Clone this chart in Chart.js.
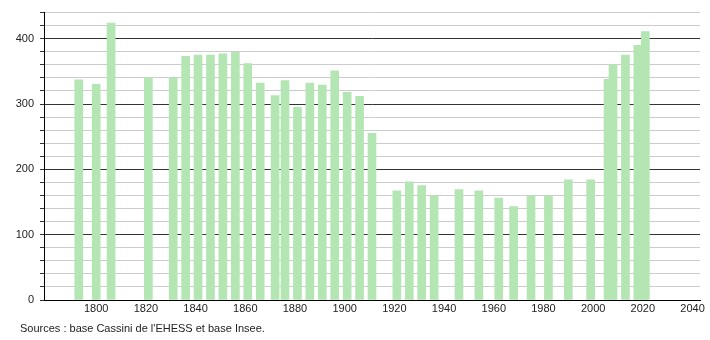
<!DOCTYPE html>
<html>
<head>
<meta charset="utf-8">
<script src="https://cdn.jsdelivr.net/npm/chart.js@4/dist/chart.umd.min.js"></script>
<style>
  html, body { margin: 0; padding: 0; background: #fff; }
  #wrap { position: relative; width: 710px; height: 340px; }
  #source {
    position: absolute; left: 20px; top: 322px;
    font: 11px "Liberation Sans", Arial, sans-serif; color: #222;
  }
</style>
</head>
<body>
<div id="wrap">
  <canvas id="chart" width="710" height="340"></canvas>
  <div id="source">Sources : base Cassini de l'EHESS et base Insee.</div>
</div>
<script>
// ─── Data ────────────────────────────────────────────────────────────────────

const years = [
  1793, 1800, 1806, 1821, 1831, 1836, 1841, 1846, 1851, 1856,
  1861, 1866, 1872, 1876, 1881, 1886, 1891, 1896, 1901, 1906,
  1911, 1921, 1926, 1931, 1936, 1946, 1954, 1962, 1968, 1975,
  1982, 1990, 1999, 2006, 2008, 2013, 2018, 2021,
];
const population = [
  337, 330, 424, 340, 340, 373, 375, 375, 377, 379,
  362, 332, 313, 336, 295, 332, 329, 351, 318, 312,
  255, 167, 181, 175, 159, 169, 167, 156, 143, 159,
  159, 184, 184, 338, 360, 375, 390, 411,
];
const xTicks = [1800, 1820, 1840, 1860, 1880, 1900, 1920, 1940, 1960, 1980, 2000, 2020, 2040];
const yTicks = [0, 100, 200, 300, 400];

// ─── Chart ───────────────────────────────────────────────────────────────────

const font = { family: "'Liberation Sans', Arial, sans-serif", size: 11 };

new Chart(document.getElementById("chart").getContext("2d"), {
  type: "bar",
  data: {
    datasets: [
      {
        data: years.map((y, i) => ({ x: y, y: population[i] })),
        backgroundColor: "#b3e6b3",
        borderWidth: 0,
        barThickness: 8,
      },
    ],
  },
  options: {
    responsive: false,
    animation: false,
    layout: { padding: { top: 10, right: 10, left: 0, bottom: 0 } },
    plugins: { legend: { display: false }, tooltip: { enabled: false } },
    scales: {
      x: {
        type: "linear",
        offset: false,
        min: 1779,
        max: 2043,
        afterBuildTicks: (s) => {
          s.ticks = xTicks.map((v) => ({ value: v }));
        },
        afterFit: (s) => {
          s.height = 40;
        },
        grid: { display: false, drawTicks: false },
        border: { display: true, color: "#000", width: 1 },
        ticks: {
          color: "#222",
          font,
          padding: 2,
          maxRotation: 0,
          autoSkip: false,
          callback: (v) => String(v),
        },
      },
      y: {
        min: 0,
        max: 440,
        afterFit: (s) => {
          s.width = 44;
        },
        grid: {
          color: (c) =>
            yTicks.includes(c.tick.value) ? "#333" : "#cccccc",
          tickColor: "#333",
          tickLength: 4,
          lineWidth: 1,
        },
        border: { display: true, color: "#000", width: 1 },
        ticks: {
          stepSize: 20,
          autoSkip: false,
          color: "#222",
          font,
          padding: 6,
          callback: (v) => (yTicks.includes(v) ? String(v) : ""),
        },
      },
    },
  },
});
</script>
</body>
</html>
